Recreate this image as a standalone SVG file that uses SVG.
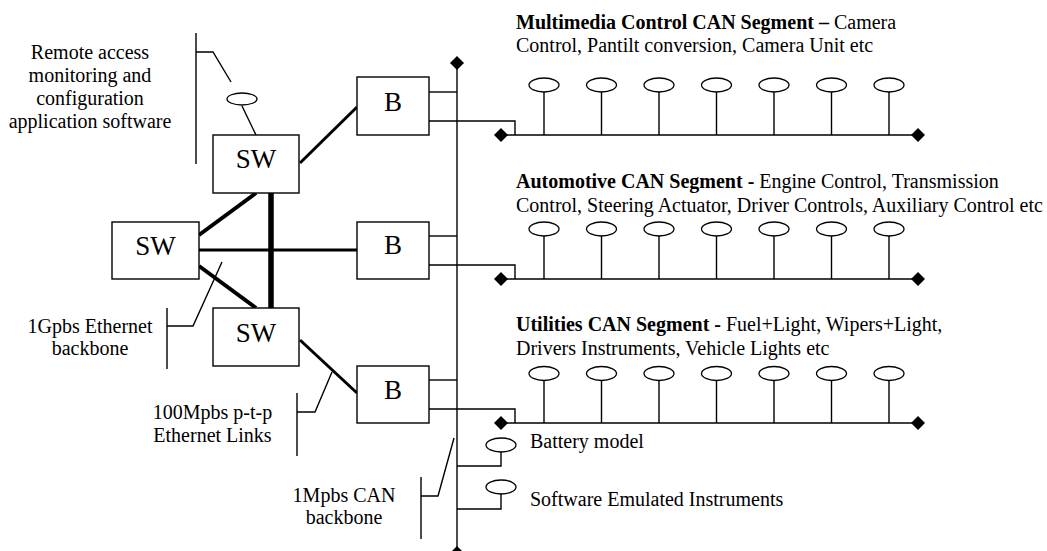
<svg xmlns="http://www.w3.org/2000/svg" width="1047" height="551" viewBox="0 0 1047 551">
<style>
.t{font-family:"Liberation Serif","Times New Roman",serif;font-size:20px;fill:#000}
.c{text-anchor:middle}
.big{font-family:"Liberation Serif","Times New Roman",serif;font-size:27px;fill:#000;text-anchor:middle}
.b{font-weight:bold}
.box{fill:#fff;stroke:#000;stroke-width:1.4}
.ln{fill:none;stroke:#000;stroke-width:1.4}
.el{fill:#fff;stroke:#000;stroke-width:1.3}
.dm{fill:#000}
</style>
<defs>
<polygon id="dia" points="0,-7 7,0 0,7 -7,0"/>
<ellipse id="node" rx="15" ry="7"/>
</defs>
<rect width="1047" height="551" fill="#fff"/>

<g id="connectors">
  <!-- Ethernet backbone links -->
  <line x1="199" y1="235" x2="256" y2="193" stroke="#000" stroke-width="4"/>
  <line x1="199" y1="266" x2="256" y2="308" stroke="#000" stroke-width="4"/>
  <line x1="271" y1="193" x2="271" y2="308" stroke="#000" stroke-width="5.5"/>
  <line x1="199" y1="250" x2="357" y2="250" stroke="#000" stroke-width="3"/>
  <line x1="300" y1="163" x2="357" y2="107" stroke="#000" stroke-width="3"/>
  <line x1="300" y1="340" x2="357" y2="393" stroke="#000" stroke-width="3"/>
  <!-- remote access app link -->
  <line class="ln" x1="242" y1="106" x2="256" y2="135"/>
  <!-- CAN backbone -->
  <line class="ln" x1="457" y1="63" x2="457" y2="553"/>
  <use href="#dia" x="457" y="63" class="dm"/>
  <use href="#dia" x="457" y="553" class="dm"/>
  <!-- bridge links -->
  <polyline class="ln" points="429,92 457,92"/>
  <polyline class="ln" points="429,121 515,121 515,135"/>
  <polyline class="ln" points="429,236 457,236"/>
  <polyline class="ln" points="429,265 515,265 515,279"/>
  <polyline class="ln" points="429,380 457,380"/>
  <polyline class="ln" points="429,409 515,409 515,423"/>
  <!-- CAN segment buses -->
  <line class="ln" x1="501" y1="135" x2="918" y2="135"/>
  <line class="ln" x1="501" y1="279" x2="918" y2="279"/>
  <line class="ln" x1="501" y1="423" x2="918" y2="423"/>
  <use href="#dia" x="501" y="135" class="dm"/>
  <use href="#dia" x="918" y="135" class="dm"/>
  <use href="#dia" x="501" y="279" class="dm"/>
  <use href="#dia" x="918" y="279" class="dm"/>
  <use href="#dia" x="501" y="423" class="dm"/>
  <use href="#dia" x="918" y="423" class="dm"/>
  <!-- stems -->
  <g class="ln">
    <path d="M544,92V135M601.5,92V135M659,92V135M716.5,92V135M774,92V135M831.5,92V135M889,92V135"/>
    <path d="M544,236V279M601.5,236V279M659,236V279M716.5,236V279M774,236V279M831.5,236V279M889,236V279"/>
    <path d="M544,380V423M601.5,380V423M659,380V423M716.5,380V423M774,380V423M831.5,380V423M889,380V423"/>
    <polyline points="501,451 501,466 457,466"/>
    <polyline points="501,493 501,509 457,509"/>
  </g>
  <!-- label callouts -->
  <g class="ln">
    <path d="M196,33V164M196,52H213L231,82"/>
    <path d="M167,308V369M167,326H193L222,262"/>
    <path d="M297,393V456M297,412H315L332,372"/>
    <path d="M421,477V539M421,496H438L454,438"/>
  </g>
</g>

<g id="sw-top"><rect class="box" x="213" y="135" width="86" height="58"/><text class="big" x="256" y="168">SW</text></g>
<g id="sw-left"><rect class="box" x="112" y="222" width="87" height="57"/><text class="big" x="155.5" y="255">SW</text></g>
<g id="sw-bottom"><rect class="box" x="213" y="308" width="86" height="58"/><text class="big" x="256" y="342">SW</text></g>

<g id="bridge-1"><rect class="box" x="357" y="77" width="72" height="58"/><text class="big" x="393" y="111">B</text></g>
<g id="bridge-2"><rect class="box" x="357" y="222" width="72" height="57"/><text class="big" x="393" y="254">B</text></g>
<g id="bridge-3"><rect class="box" x="357" y="366" width="72" height="57"/><text class="big" x="393" y="399">B</text></g>

<g id="app-node"><ellipse class="el" cx="242" cy="99" rx="15" ry="6"/></g>

<g id="multimedia-nodes" class="el">
  <use href="#node" x="544" y="85"/><use href="#node" x="601.5" y="85"/><use href="#node" x="659" y="85"/><use href="#node" x="716.5" y="85"/><use href="#node" x="774" y="85"/><use href="#node" x="831.5" y="85"/><use href="#node" x="889" y="85"/>
</g>
<g id="automotive-nodes" class="el">
  <use href="#node" x="544" y="229"/><use href="#node" x="601.5" y="229"/><use href="#node" x="659" y="229"/><use href="#node" x="716.5" y="229"/><use href="#node" x="774" y="229"/><use href="#node" x="831.5" y="229"/><use href="#node" x="889" y="229"/>
</g>
<g id="utilities-nodes" class="el">
  <use href="#node" x="544" y="373.5"/><use href="#node" x="601.5" y="373.5"/><use href="#node" x="659" y="373.5"/><use href="#node" x="716.5" y="373.5"/><use href="#node" x="774" y="373.5"/><use href="#node" x="831.5" y="373.5"/><use href="#node" x="889" y="373.5"/>
</g>
<g id="battery-node"><use href="#node" x="501" y="445" class="el"/><text class="t" x="530" y="448">Battery model</text></g>
<g id="sw-instr-node"><use href="#node" x="501" y="487" class="el"/><text class="t" x="530" y="506">Software Emulated Instruments</text></g>

<g id="labels">
  <text class="t c" x="90" y="59">Remote access</text>
  <text class="t c" x="90" y="82">monitoring and</text>
  <text class="t c" x="90" y="105">configuration</text>
  <text class="t c" x="90" y="128">application software</text>
  <text class="t c" x="90" y="333">1Gpbs Ethernet</text>
  <text class="t c" x="90" y="355">backbone</text>
  <text class="t c" x="212.5" y="419">100Mpbs p-t-p</text>
  <text class="t c" x="212.5" y="442">Ethernet Links</text>
  <text class="t c" x="344" y="502">1Mpbs CAN</text>
  <text class="t c" x="344" y="524">backbone</text>
  <text class="t" x="516" y="29"><tspan class="b">Multimedia Control CAN Segment –</tspan> Camera</text>
  <text class="t" x="516" y="52">Control, Pantilt conversion, Camera Unit etc</text>
  <text class="t" x="516" y="188"><tspan class="b">Automotive CAN Segment -</tspan> Engine Control, Transmission</text>
  <text class="t" x="516" y="212">Control, Steering Actuator, Driver Controls, Auxiliary Control etc</text>
  <text class="t" x="516" y="331"><tspan class="b">Utilities CAN Segment -</tspan> Fuel+Light, Wipers+Light,</text>
  <text class="t" x="516" y="355">Drivers Instruments, Vehicle Lights etc</text>
</g>
</svg>
